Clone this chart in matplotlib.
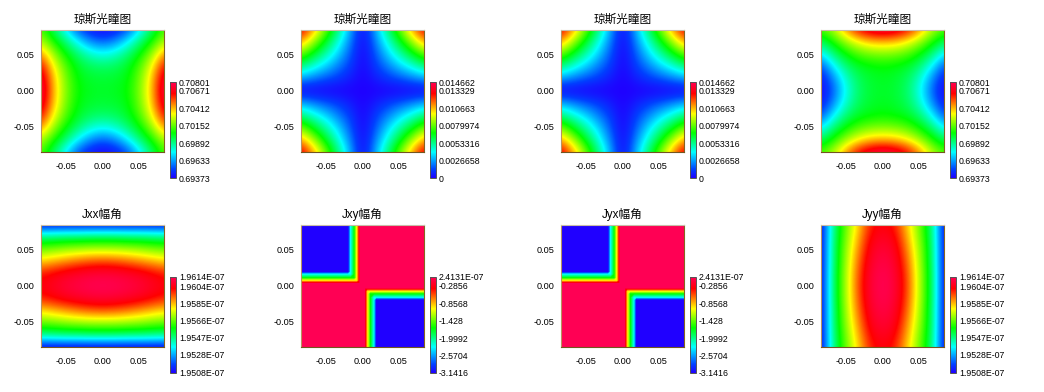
import numpy as np
import matplotlib
matplotlib.use('Agg')
from matplotlib import pyplot as plt
from matplotlib.colors import LinearSegmentedColormap, Normalize
from matplotlib.cm import ScalarMappable

plt.rcParams['font.family'] = ['Liberation Sans', 'Noto Sans CJK SC']
plt.rcParams['axes.unicode_minus'] = False

W, H = 1044, 392

titles = ['琼斯光瞳图', '琼斯光瞳图', '琼斯光瞳图', '琼斯光瞳图', 'Jxx幅角', 'Jxy幅角', 'Jyx幅角', 'Jyy幅角']
axis_ticks = [-0.05, 0.0, 0.05]
axis_labels = ['-0.05', '0.00', '0.05']

# colorbar ticks, bottom to top, last one is the max of the field
amp_xx_ticks = [0.69373, 0.69633, 0.69892, 0.70152, 0.70412, 0.70671, 0.70801]
amp_xy_ticks = [0, 0.0026658, 0.0053316, 0.0079974, 0.010663, 0.013329, 0.014662]
ang_xx_ticks = [1.9508e-07, 1.9528e-07, 1.9547e-07, 1.9566e-07, 1.9585e-07, 1.9604e-07, 1.9614e-07]
ang_xy_ticks = [-3.1416, -2.5704, -1.9992, -1.428, -0.8568, -0.2856, 2.4131e-07]

amp_xx_labels = ['0.69373', '0.69633', '0.69892', '0.70152', '0.70412', '0.70671', '0.70801']
amp_xy_labels = ['0', '0.0026658', '0.0053316', '0.0079974', '0.010663', '0.013329', '0.014662']
ang_xx_labels = ['1.9508E-07', '1.9528E-07', '1.9547E-07', '1.9566E-07', '1.9585E-07', '1.9604E-07', '1.9614E-07']
ang_xy_labels = ['-3.1416', '-2.5704', '-1.9992', '-1.428', '-0.8568', '-0.2856', '2.4131E-07']

# read off the picture as fraction of the colorbar range
# one quadrant, rows y = 0 .. 0.085, columns x = 0 .. 0.085
amp_xx_quad = np.array([
    [0.44, 0.445, 0.47, 0.57, 0.73, 0.99],
    [0.43, 0.435, 0.46, 0.56, 0.72, 0.96],
    [0.39, 0.40, 0.44, 0.53, 0.67, 0.89],
    [0.28, 0.31, 0.38, 0.47, 0.59, 0.76],
    [0.12, 0.16, 0.26, 0.38, 0.49, 0.61],
    [0.00, 0.03, 0.10, 0.25, 0.40, 0.53],
])
amp_xy_quad = np.array([
    [0.00, 0.00, 0.00, 0.00, 0.00, 0.00],
    [0.00, 0.04, 0.08, 0.11, 0.15, 0.19],
    [0.00, 0.08, 0.15, 0.23, 0.30, 0.38],
    [0.00, 0.11, 0.23, 0.34, 0.45, 0.56],
    [0.00, 0.15, 0.30, 0.45, 0.60, 0.75],
    [0.00, 0.19, 0.38, 0.56, 0.75, 0.92],
])
ang_xx_quad = np.array([
    [1.00, 0.995, 0.98, 0.96, 0.93, 0.90],
    [0.96, 0.955, 0.94, 0.92, 0.89, 0.86],
    [0.82, 0.81, 0.79, 0.76, 0.73, 0.70],
    [0.60, 0.60, 0.59, 0.58, 0.56, 0.55],
    [0.40, 0.40, 0.39, 0.39, 0.38, 0.37],
    [0.00, 0.00, 0.00, 0.00, 0.00, 0.00],
])

# Jxy phase has sharp bands so it gets its own uneven coordinates
band_dist = [0.0025, 0.004, 0.0068, 0.0105, 0.0155, 0.019, 0.085]
ang_xy_quad = np.array([
    [1.00, 1.00, 1.00, 1.00, 1.00, 1.00, 1.00],
    [1.00, 0.88, 0.88, 0.88, 0.88, 0.88, 0.88],
    [1.00, 0.88, 0.68, 0.68, 0.68, 0.68, 0.68],
    [1.00, 0.88, 0.68, 0.47, 0.47, 0.47, 0.47],
    [1.00, 0.88, 0.68, 0.47, 0.27, 0.27, 0.27],
    [1.00, 0.88, 0.68, 0.47, 0.27, 0.00, 0.00],
    [1.00, 0.88, 0.68, 0.47, 0.27, 0.00, 0.00],
])

cmap = LinearSegmentedColormap.from_list('pupil', [
    (0.0, '#2000ff'), (0.09, '#0040ff'), (0.27, '#00ffff'), (0.47, '#00ff00'),
    (0.67, '#ffff00'), (0.88, '#ff0000'), (1.0, '#ff0055')], N=512)

ax_lefts = [40.5, 300.5, 560.5, 820.5]
ax_tops = [29.5, 224.5]
cb_tops = [82, 277]
ax_w, ax_h = 123.5, 122.5
frame_colors = {'top': '#c8bca8', 'left': '#b8925f', 'right': '#85651f', 'bottom': '#74551f'}


def mirror(q):
    top = np.concatenate([q[:0:-1], q], axis=0)
    return np.concatenate([top[:, :0:-1], top], axis=1)


def px_axes(left, top, w, h):
    return fig.add_axes([left / W, 1 - (top + h) / H, w / W, h / H])


def draw_panel(col, row, title, field, ticks, labels, bands=False):
    ax = px_axes(ax_lefts[col], ax_tops[row], ax_w, ax_h)
    vmin, vmax = ticks[0], ticks[-1]
    data = vmin + field * (vmax - vmin)
    if bands:
        levels = np.linspace(vmin, vmax, 257)
        levels[-1] = vmax + (vmax - vmin) * 0.001
        ax.contourf(band_axis, band_axis, data, levels=levels, cmap=cmap, antialiased=False)
    else:
        half = 0.0085
        ax.imshow(data, origin='lower', cmap=cmap, vmin=vmin, vmax=vmax, aspect='auto',
                  extent=(-0.085 - half, 0.085 + half, -0.085 - half, 0.085 + half),
                  interpolation='bicubic', interpolation_stage='data')
    ax.set_xlim(-0.085, 0.085)
    ax.set_ylim(-0.085, 0.085)
    ax.set_xticks(axis_ticks, axis_labels)
    ax.set_yticks(axis_ticks, axis_labels)
    ax.tick_params(axis='x', length=0, pad=7.5, labelsize=6.6, labelcolor='black')
    ax.tick_params(axis='y', length=0, pad=4.6, labelsize=6.6, labelcolor='black')
    for side in frame_colors:
        ax.spines[side].set_color(frame_colors[side])
        ax.spines[side].set_linewidth(0.8)
    ax.set_title(title, fontsize=8.4, pad=5, color='black')

    cax = px_axes(ax_lefts[col] + 129.5, cb_tops[row], 6, 96)
    cb = fig.colorbar(ScalarMappable(Normalize(vmin, vmax), cmap), cax=cax)
    cb.set_ticks(ticks, labels=labels)
    cb.ax.tick_params(length=0, pad=2.2, labelsize=6.3, labelcolor='black')
    cb.outline.set_edgecolor('#555555')
    cb.outline.set_linewidth(0.7)


band_axis = np.array([-d for d in band_dist[::-1]] + band_dist)

# upper left and lower right blocks hold the bands, the rest stays at the top value
# rows run bottom to top
ones = np.ones_like(ang_xy_quad)
ang_xy = np.block([
    [ones, ang_xy_quad[::-1, :]],
    [ang_xy_quad[:, ::-1], ones],
])

amp_xx = mirror(amp_xx_quad)
amp_xy = mirror(amp_xy_quad)
ang_xx = mirror(ang_xx_quad)

fig = plt.figure(figsize=(W / 100, H / 100), dpi=100, facecolor='white')

draw_panel(0, 0, titles[0], amp_xx, amp_xx_ticks, amp_xx_labels)
draw_panel(1, 0, titles[1], amp_xy, amp_xy_ticks, amp_xy_labels)
draw_panel(2, 0, titles[2], amp_xy, amp_xy_ticks, amp_xy_labels)
draw_panel(3, 0, titles[3], amp_xx.T, amp_xx_ticks, amp_xx_labels)
draw_panel(0, 1, titles[4], ang_xx, ang_xx_ticks, ang_xx_labels)
draw_panel(1, 1, titles[5], ang_xy, ang_xy_ticks, ang_xy_labels, bands=True)
draw_panel(2, 1, titles[6], ang_xy, ang_xy_ticks, ang_xy_labels, bands=True)
draw_panel(3, 1, titles[7], ang_xx.T, ang_xx_ticks, ang_xx_labels)

fig.savefig('out.png', dpi=100)
